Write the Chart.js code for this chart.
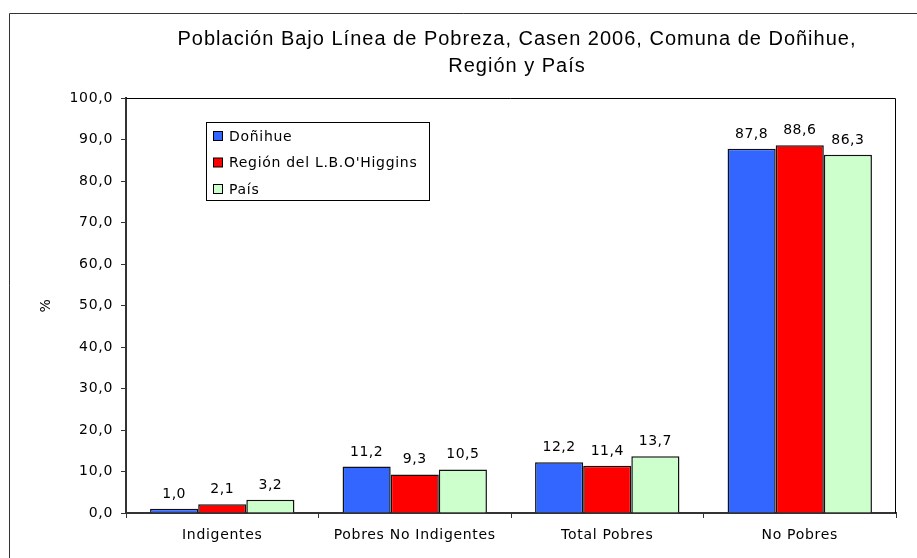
<!DOCTYPE html>
<html><head><meta charset="utf-8">
<script src="https://cdn.jsdelivr.net/npm/chart.js@4"></script>
<style>html,body{margin:0;padding:0;background:#fff}#wrap{width:917px;height:558px;position:relative}</style>
</head><body><div id="wrap"><canvas id="c" width="917" height="558"></canvas></div>
<script>
const categories = ["Indigentes", "Pobres No Indigentes", "Total Pobres", "No Pobres"];
const seriesNames = ["Doñihue", "Región del L.B.O'Higgins", "País"];
const donihue = [1.0, 11.2, 12.2, 87.8];
const region = [2.1, 9.3, 11.4, 88.6];
const pais = [3.2, 10.5, 13.7, 86.3];
const yTicks = [0, 10, 20, 30, 40, 50, 60, 70, 80, 90, 100];
const titleLines = ["Población Bajo Línea de Pobreza, Casen 2006, Comuna de Doñihue,", "Región y País"];
const colors = ["#3366FF", "#FF0000", "#CCFFCC"];

const TFONT = "'Liberation Sans', Arial, sans-serif";
const FONT = "'DejaVu Sans', Verdana, sans-serif";
const fmt = v => v.toFixed(1).replace('.', ',');

const decor = {
  id: 'decor',
  beforeDraw(chart) {
    const ctx = chart.ctx;
    ctx.save();
    ctx.letterSpacing = '0px';
    ctx.strokeStyle = '#333';
    ctx.lineWidth = 1;
    ctx.beginPath();
    ctx.moveTo(9.5, 558); ctx.lineTo(9.5, 13.5); ctx.lineTo(917, 13.5);
    ctx.stroke();
    ctx.restore();
    ctx.letterSpacing = '0.7px';
  },
  afterDatasetsDraw(chart) {
    const ctx = chart.ctx;
    const a = chart.chartArea;
    ctx.save();
    ctx.strokeStyle = '#000';
    ctx.lineWidth = 1;
    ctx.beginPath();
    ctx.moveTo(a.left, a.top + 0.5); ctx.lineTo(a.right - 0.5, a.top + 0.5); ctx.lineTo(a.right - 0.5, a.bottom);
    ctx.stroke();
    ctx.restore();
  },
  afterDraw(chart) {
    const ctx = chart.ctx;
    const a = chart.chartArea;
    ctx.save();
    // title
    ctx.fillStyle = '#000';
    ctx.letterSpacing = '1px';
    ctx.font = '20px ' + TFONT;
    ctx.textAlign = 'center';
    ctx.textBaseline = 'alphabetic';
    const cx = (a.left + a.right) / 2 + 6;
    titleLines.forEach((t, i) => ctx.fillText(t, cx, 45 + i * 27));
    // data labels
    ctx.letterSpacing = '0.5px';
    ctx.font = '14px ' + FONT;
    chart.data.datasets.forEach((ds, i) => {
      chart.getDatasetMeta(i).data.forEach((bar, j) => {
        ctx.fillText(fmt(ds.data[j]), bar.x, bar.y - 11);
      });
    });
    // legend box
    const lx = 206.5, ly = 122.5, lw = 223, lh = 78;
    ctx.fillStyle = '#fff';
    ctx.fillRect(lx, ly, lw, lh);
    ctx.strokeStyle = '#000';
    ctx.lineWidth = 1;
    ctx.strokeRect(lx, ly, lw, lh);
    ctx.letterSpacing = '0.7px';
    ctx.textAlign = 'left';
    ctx.textBaseline = 'middle';
    chart.data.datasets.forEach((ds, i) => {
      const cy = 136 + i * 26.5;
      ctx.fillStyle = ds.backgroundColor;
      ctx.fillRect(213.5, cy - 4.5, 9, 9);
      ctx.strokeStyle = '#000';
      ctx.strokeRect(213.5, cy - 4.5, 9, 9);
      ctx.fillStyle = '#000';
      ctx.fillText(ds.label, 229, cy + 1);
    });
    ctx.restore();
    ctx.letterSpacing = '0px';
  }
};

new Chart(document.getElementById('c'), {
  type: 'bar',
  data: {
    labels: categories,
    datasets: [
      {label: seriesNames[0], data: donihue, backgroundColor: colors[0]},
      {label: seriesNames[1], data: region, backgroundColor: colors[1]},
      {label: seriesNames[2], data: pais, backgroundColor: colors[2]}
    ].map(d => Object.assign(d, {borderColor: '#111', borderWidth: 1.5, borderSkipped: 'bottom', barPercentage: 1, categoryPercentage: 0.75}))
  },
  options: {
    responsive: false,
    animation: false,
    devicePixelRatio: 1,
    layout: {padding: {left: 10, right: 21, top: 98, bottom: 0}},
    plugins: {
      legend: {display: false},
      tooltip: {enabled: false},
      title: {display: false}
    },
    scales: {
      x: {
        grid: {display: true, drawOnChartArea: false, offset: true, tickLength: 5, color: '#333'},
        border: {display: true, color: '#333', width: 2},
        ticks: {color: '#000', font: {family: FONT, size: 14}, padding: 9, maxRotation: 0},
        afterFit(s) { s.height = 45; }
      },
      y: {
        min: 0, max: 100,
        afterBuildTicks(s) { s.ticks = yTicks.map(v => ({value: v})); },
        grid: {display: true, drawOnChartArea: false, tickLength: 5, color: '#333'},
        border: {display: true, color: '#333', width: 2},
        ticks: {color: '#000', font: {family: FONT, size: 14}, padding: 8, callback: v => fmt(v)},
        title: {display: true, text: '%', color: '#000', font: {family: FONT, size: 14}, padding: {top: 28, bottom: 0}},
        afterFit(s) { s.width = 116; }
      }
    }
  },
  plugins: [decor]
});
</script></body></html>
